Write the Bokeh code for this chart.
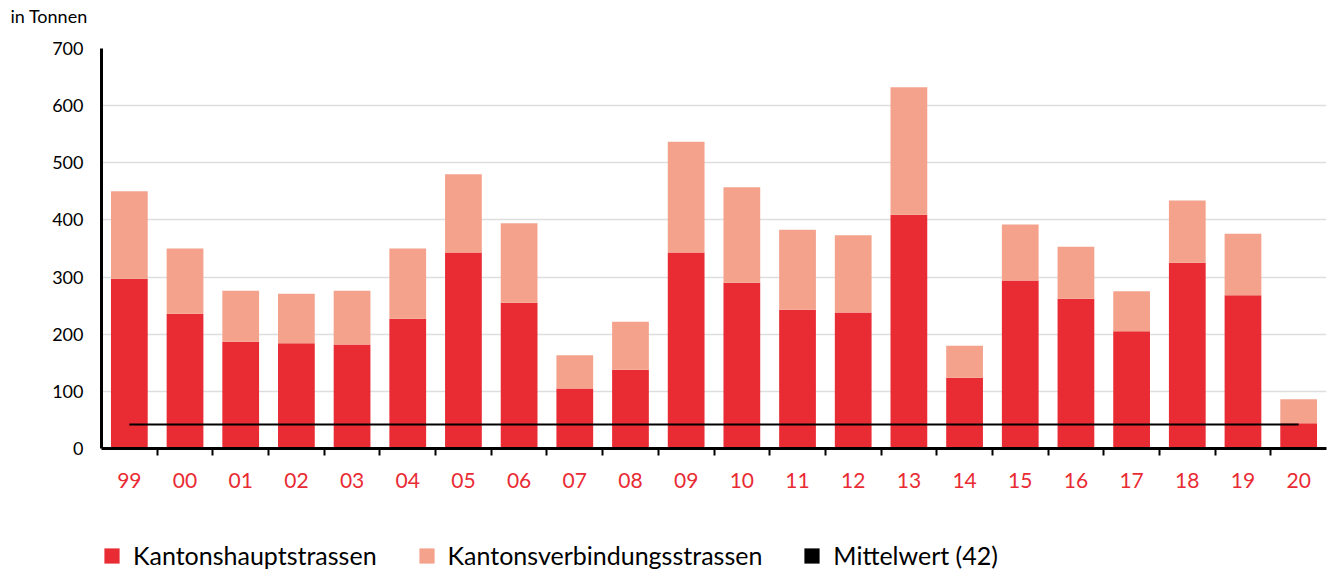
from bokeh.plotting import figure
from bokeh.layouts import column
from bokeh.models import (Legend, LegendItem, FixedTicker, Range1d, ColumnDataSource)
from bokeh.embed import file_html
from bokeh.resources import INLINE

years = ["99", "00", "01", "02", "03", "04", "05", "06", "07", "08", "09",
         "10", "11", "12", "13", "14", "15", "16", "17", "18", "19", "20"]
kantonshauptstrassen = [297, 236, 187, 184, 182, 227, 343, 255, 105, 138, 343,
                        290, 243, 238, 409, 124, 294, 262, 205, 325, 268, 44]
kantonsverbindungsstrassen = [153, 114, 89, 87, 94, 123, 137, 139, 58, 84, 194,
                              167, 140, 135, 223, 56, 98, 91, 70, 109, 108, 42]
mittelwert = 42
y_ticks = [0, 100, 200, 300, 400, 500, 600, 700]
series_names = ["Kantonshauptstrassen", "Kantonsverbindungsstrassen",
                "Mittelwert (%d)" % mittelwert]
unit_text = "in Tonnen"

RED = "#e92b34"
LIGHT = "#f4a28c"
FONT = "Lato"

xs = list(range(len(years)))
src = ColumnDataSource(dict(x=xs, haupt=kantonshauptstrassen,
                            verb=kantonsverbindungsstrassen))

# ---- top strip carrying the unit as a title ----
top = figure(frame_width=1225, frame_height=2, output_backend="svg",
             toolbar_location=None, x_range=Range1d(0, 1), y_range=Range1d(0, 1),
             min_border_left=101, min_border_right=2, min_border_top=0,
             min_border_bottom=0, x_axis_type=None, y_axis_type=None)
top.outline_line_color = None
top.grid.visible = False
top.title.text = unit_text
top.title.align = "left"
top.title.offset = -91
top.title.text_font = FONT
top.title.text_font_size = "18px"
top.title.text_font_style = "normal"
top.title.text_color = "black"
top.title.standoff = 4

# ---- main chart ----
p = figure(frame_width=1225, frame_height=400, output_backend="svg",
           toolbar_location=None,
           x_range=Range1d(-0.5, len(years) - 0.5), y_range=Range1d(0, 700),
           min_border_left=101, min_border_right=2, min_border_top=18,
           min_border_bottom=60)
p.outline_line_color = None
p.background_fill_color = "white"

renderers = p.vbar_stack(["haupt", "verb"], x="x", width=0.66, source=src,
                         color=[RED, LIGHT], line_color=None)

p.line(x=[xs[0], xs[-1]], y=[mittelwert, mittelwert], line_color="black",
       line_width=2)

xax = p.xaxis[0]
xax.ticker = FixedTicker(ticks=xs, minor_ticks=[i + 0.5 for i in xs[:-1]])
xax.major_label_overrides = {i: y for i, y in enumerate(years)}
xax.major_tick_line_color = None
xax.minor_tick_line_color = "black"
xax.minor_tick_line_width = 2
xax.minor_tick_out = 7
xax.minor_tick_in = 0
xax.axis_line_width = 3
xax.axis_line_color = "black"
xax.major_label_text_color = RED
xax.major_label_text_font = FONT
xax.major_label_text_font_size = "21px"
xax.major_label_standoff = 17

yax = p.yaxis[0]
yax.ticker = FixedTicker(ticks=y_ticks)
yax.major_tick_line_color = None
yax.minor_tick_line_color = None
yax.axis_line_width = 3
yax.axis_line_color = "black"
yax.major_label_text_font = FONT
yax.major_label_text_font_size = "18px"
yax.major_label_text_color = "black"
yax.major_label_standoff = 12

p.xgrid.grid_line_color = None
p.ygrid.grid_line_color = "#dedede"
p.ygrid.grid_line_width = 1.5

# ---- legend strip ----
leg = figure(frame_width=1225, frame_height=66, output_backend="svg",
             toolbar_location=None, x_range=Range1d(0, 1), y_range=Range1d(0, 1),
             min_border_left=101, min_border_right=2, min_border_top=0,
             min_border_bottom=0, x_axis_type=None, y_axis_type=None)
leg.outline_line_color = None
leg.grid.visible = False
l1 = leg.vbar(x=[0.5], top=[0], bottom=[0], width=0.1, fill_color=RED, line_color=None)
l2 = leg.vbar(x=[0.5], top=[0], bottom=[0], width=0.1, fill_color=LIGHT, line_color=None)
l3 = leg.vbar(x=[0.5], top=[0], bottom=[0], width=0.1, fill_color="black", line_color=None)

legend = Legend(items=[
    LegendItem(label=series_names[0], renderers=[l1]),
    LegendItem(label=series_names[1], renderers=[l2]),
    LegendItem(label=series_names[2], renderers=[l3]),
], orientation="horizontal")
legend.location = (1, 4)
legend.border_line_color = None
legend.background_fill_alpha = 0
legend.padding = 0
legend.margin = 0
legend.glyph_width = 19
legend.glyph_height = 19
legend.label_standoff = 12
legend.spacing = 40
legend.label_text_font = FONT
legend.label_text_font_size = "25px"
legend.label_text_color = "black"
leg.add_layout(legend, "center")

layout = column(top, p, leg, spacing=0)
open("out.html", "w").write(file_html(layout, INLINE))
